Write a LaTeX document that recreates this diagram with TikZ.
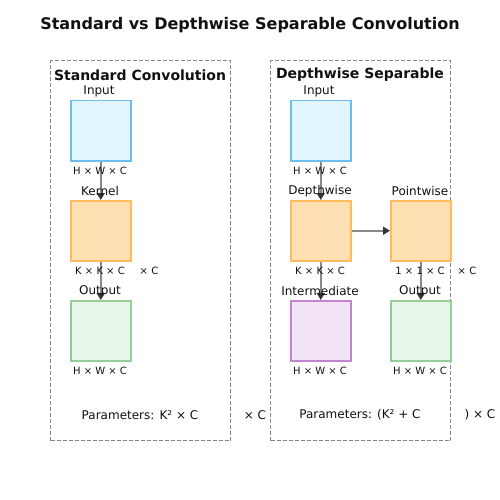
\documentclass[tikz,border=0pt]{standalone}
\usepackage{fontspec}
\setmainfont{DejaVu Sans}
\usetikzlibrary{arrows.meta}
\definecolor{inF}{HTML}{E1F5FE}\definecolor{inD}{HTML}{6BBFEA}
\definecolor{kF}{HTML}{FFE0B2}\definecolor{kD}{HTML}{FFBA5E}
\definecolor{oF}{HTML}{E8F5E9}\definecolor{oD}{HTML}{96CC99}
\definecolor{pF}{HTML}{F3E5F5}\definecolor{pD}{HTML}{C283D0}
\definecolor{txt}{HTML}{111111}
\definecolor{dashc}{HTML}{888888}
\definecolor{arrc}{HTML}{888888}
\begin{document}
\begin{tikzpicture}[x=1pt,y=-1pt,
  panel/.style={draw=dashc,dash pattern=on 4pt off 2pt,line width=1.4pt},
  blk/.style={minimum width=60pt,minimum height=60pt,inner sep=0pt,line width=1.5pt,anchor=north west},
  inb/.style={blk,fill=inF,draw=inD},
  kb/.style={blk,fill=kF,draw=kD},
  ob/.style={blk,fill=oF,draw=oD},
  pb/.style={blk,fill=pF,draw=pD},
  lab/.style={font=\fontsize{12}{14}\selectfont,text=txt,inner sep=0pt},
  dim/.style={font=\fontsize{10}{12}\selectfont,text=txt,inner sep=0pt},
  prm/.style={font=\fontsize{12}{14}\selectfont,text=txt,inner sep=0pt},
  ptitle/.style={font=\fontsize{14}{16}\selectfont\bfseries,text=txt,inner sep=0pt},
  arr/.style={draw=arrc,line width=1.8pt,-{Triangle[length=7pt,width=8pt,fill=black!80,color=black!80]}}
]
\useasboundingbox (0,0) rectangle (500,500);
\node[font=\fontsize{16}{19}\selectfont\bfseries,text=txt,inner sep=0pt] (title) at (250,25) {Standard vs Depthwise Separable Convolution};
\node[panel,anchor=north west,minimum width=180pt,minimum height=380pt,inner sep=0pt] (pl) at (50,60) {};
\node[panel,anchor=north west,minimum width=180pt,minimum height=380pt,inner sep=0pt] (pr) at (270,60) {};
\node[ptitle] (tl) at (140,75) {Standard Convolution};
\node[ptitle] (tr) at (360,75) {Depthwise Separable};
% left
\node[inb] (in1) at (70,100) {};
\node[kb] (k1) at (70,200) {};
\node[ob] (o1) at (70,300) {};
\draw[arr] (in1.south) -- (k1.north);
\draw[arr] (k1.south) -- (o1.north);
\node[lab] at (99,91) {Input};
\node[lab] at (100,191) {Kernel};
\node[lab] at (100,291) {Output};
\node[dim] at (100,171) {H × W × C};
\node[dim] at (100,271) {K × K × C};
\node[dim] at (149,271) {× C};
\node[dim] at (100,371) {H × W × C};
% right
\node[inb] (in2) at (290,100) {};
\node[kb] (dw) at (290,200) {};
\node[kb] (pw) at (390,200) {};
\node[pb] (im) at (290,300) {};
\node[ob] (o2) at (390,300) {};
\draw[arr] (in2.south) -- (dw.north);
\draw[arr] (dw.south) -- (im.north);
\draw[arr] (dw.east) -- (pw.west);
\draw[arr] (pw.south) -- (o2.north);
\node[lab] at (319,91) {Input};
\node[lab] at (320,191) {Depthwise};
\node[lab] at (420,191) {Pointwise};
\node[lab] at (320,291) {Intermediate};
\node[lab] at (420,291) {Output};
\node[dim] at (320,171) {H × W × C};
\node[dim] at (320,271) {K × K × C};
\node[dim] at (420,271) {1 × 1 × C};
\node[dim] at (467,271) {× C};
\node[dim] at (320,371) {H × W × C};
\node[dim] at (420,371) {H × W × C};
% params
\node[prm] at (140,415) {Parameters: K² × C};
\node[prm] at (255,415) {× C};
\node[prm] at (360,415) {Parameters: (K² + C};
\node[prm] at (480,415) {) × C};
\end{tikzpicture}
\end{document}
